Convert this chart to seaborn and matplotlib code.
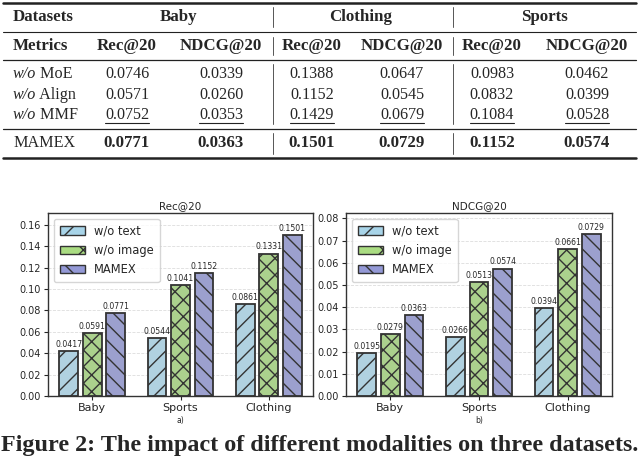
import numpy as np
import pandas as pd
import matplotlib
matplotlib.use('Agg')
import matplotlib.pyplot as plt
from matplotlib.lines import Line2D
from matplotlib.patches import Patch
import seaborn as sns


# ---- table data ----
table_datasets = ['Baby', 'Clothing', 'Sports']
table_metrics = ['Rec@20', 'NDCG@20']
ablation_names = ['MoE', 'Align', 'MMF']
row_moe = [0.0746, 0.0339, 0.1388, 0.0647, 0.0983, 0.0462]
row_align = [0.0571, 0.0260, 0.1152, 0.0545, 0.0832, 0.0399]
row_mmf = [0.0752, 0.0353, 0.1429, 0.0679, 0.1084, 0.0528]
row_mamex = [0.0771, 0.0363, 0.1501, 0.0729, 0.1152, 0.0574]

# ---- bar chart data ----
categories = ['Baby', 'Sports', 'Clothing']
variants = ['w/o text', 'w/o image', 'MAMEX']
rec_wo_text = [0.0417, 0.0544, 0.0861]
rec_wo_image = [0.0591, 0.1041, 0.1331]
rec_mamex = [0.0771, 0.1152, 0.1501]
ndcg_wo_text = [0.0195, 0.0266, 0.0394]
ndcg_wo_image = [0.0279, 0.0513, 0.0661]
ndcg_mamex = [0.0363, 0.0574, 0.0729]

colors = ['#a8d4e8', '#aadc82', '#9499d6']
hatches = ['//', 'xx', '\\\\']
edge = '#333333'
serif = 'Liberation Serif'

W, H = 640, 457

sns.set_style('ticks')
plt.rcParams['hatch.linewidth'] = 1.0
plt.rcParams['hatch.color'] = '#111111'

fig = plt.figure(figsize=(W / 100, H / 100), dpi=100)
r = fig.canvas.get_renderer()
inv = fig.transFigure.inverted()


def fx(x):
    return x / W


def fy(y):
    return 1 - y / H


def hline(y, x0, x1, lw):
    fig.add_artist(Line2D([fx(x0), fx(x1)], [fy(y), fy(y)], color='#222222',
                          lw=lw, transform=fig.transFigure))


def vline(x, y0, y1):
    fig.add_artist(Line2D([fx(x), fx(x)], [fy(y0), fy(y1)], color='#555555',
                          lw=0.7, transform=fig.transFigure))


# ---- table ----
col_x = [127, 221, 312, 402, 492, 587]
group_x = [178, 361, 544]
y_head, y_metric = 17, 46
y_rows = [74, 95, 115]
y_mamex = 143
fs = 11.6
fs_b = 12.2

hline(3, 3, 636, 1.8)
hline(32, 3, 636, 0.8)
hline(60, 3, 636, 0.9)
hline(129, 3, 636, 0.9)
hline(158, 3, 636, 1.8)
for vx in [273, 453]:
    for y0, y1 in [(7, 27), (37, 55), (64, 124), (133, 154)]:
        vline(vx, y0, y1)

fig.text(fx(13), fy(y_head), 'Datasets', family=serif, weight='bold',
         fontsize=fs_b, va='center')
for gx, d in zip(group_x, table_datasets):
    fig.text(fx(gx), fy(y_head), d, family=serif, weight='bold',
             fontsize=fs_b, va='center', ha='center')
fig.text(fx(13), fy(y_metric), 'Metrics', family=serif, weight='bold',
         fontsize=fs_b, va='center')
for i, cx in enumerate(col_x):
    fig.text(fx(cx), fy(y_metric), table_metrics[i % 2], family=serif,
             weight='bold', fontsize=fs_b, va='center', ha='center')

for y, name, vals in zip(y_rows, ablation_names, [row_moe, row_align, row_mmf]):
    t = fig.text(fx(13), fy(y), 'w/o', family=serif, style='italic',
                 fontsize=fs, va='center')
    bb = t.get_window_extent(r).transformed(inv)
    fig.text(bb.x1, fy(y), ' ' + name, family=serif, fontsize=fs, va='center')
    for cx, v in zip(col_x, vals):
        tv = fig.text(fx(cx), fy(y), f'{v:.4f}', family=serif, fontsize=fs,
                      va='center', ha='center')
        if name == 'MMF':
            b = tv.get_window_extent(r).transformed(inv)
            fig.add_artist(Line2D([b.x0, b.x1], [fy(y + 8), fy(y + 8)],
                                  color='#222222', lw=0.8,
                                  transform=fig.transFigure))

fig.text(fx(13), fy(y_mamex), 'MAMEX', family=serif, fontsize=fs, va='center')
for cx, v in zip(col_x, row_mamex):
    fig.text(fx(cx), fy(y_mamex), f'{v:.4f}', family=serif, weight='bold',
             fontsize=fs_b, va='center', ha='center')


# ---- bar charts ----
def make_df(a, b, c):
    return pd.DataFrame({'dataset': categories * 3,
                         'variant': np.repeat(variants, 3),
                         'value': a + b + c})


rec_df = make_df(rec_wo_text, rec_wo_image, rec_mamex)
ndcg_df = make_df(ndcg_wo_text, ndcg_wo_image, ndcg_mamex)

ax1 = fig.add_axes([fx(48), fy(396), (313 - 48) / W, (396 - 213) / H])
ax2 = fig.add_axes([fx(346), fy(396), (612 - 346) / W, (396 - 213) / H])

panels = [(ax1, rec_df, 'Rec@20', 0.171, np.arange(0, 0.161, 0.02), 'a)'),
          (ax2, ndcg_df, 'NDCG@20', 0.0824, np.arange(0, 0.081, 0.01), 'b)')]

for ax, df, title, ymax, yticks, tag in panels:
    sns.barplot(data=df, x='dataset', y='value', hue='variant',
                palette=colors, gap=0.2, errorbar=None, edgecolor=edge,
                linewidth=1.3, legend=False, ax=ax)
    for cont, h in zip(ax.containers, hatches):
        for p in cont:
            p.set_hatch(h)
        ax.bar_label(cont, fmt='%.4f', fontsize=5.6, padding=1.5)
    ax.set_ylim(0, ymax)
    ax.set_xlim(-0.5, 2.5)
    ax.set_yticks(yticks)
    ax.set_yticklabels([f'{t:.2f}' for t in yticks])
    ax.tick_params(axis='y', labelsize=7, length=3, pad=2)
    ax.tick_params(axis='x', labelsize=8, length=3, pad=2)
    ax.set_xlabel('')
    ax.set_ylabel('')
    ax.set_title(title, fontsize=7.5, pad=3)
    ax.yaxis.grid(True, linestyle='--', color='#dddddd', lw=0.6)
    ax.set_axisbelow(True)
    for s in ax.spines.values():
        s.set_color(edge)
        s.set_linewidth(1.0)
    handles = [Patch(facecolor=c, edgecolor=edge, hatch=h[0], label=v)
               for c, h, v in zip(colors, hatches, variants)]
    ax.legend(handles=handles, loc='upper left', fontsize=8.3,
              handlelength=2.2, borderpad=0.5, labelspacing=0.55)
    pos = ax.get_position()
    fig.text((pos.x0 + pos.x1) / 2, fy(420), tag, fontsize=5.5,
             ha='center', va='center')

fig.text(0.5, fy(451), 'Figure 2: The impact of different modalities on three datasets.',
         family=serif, weight='bold', fontsize=17.4, ha='center', va='baseline')

fig.savefig('out.png', dpi=100)
